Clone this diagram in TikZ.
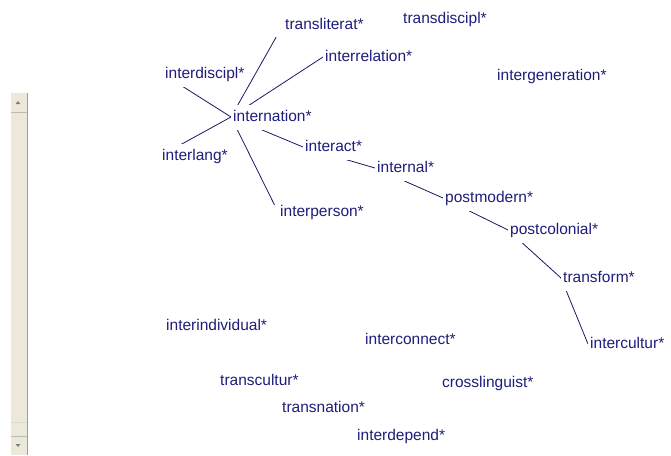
\documentclass[tikz,border=0pt]{standalone}
\usepackage{fontspec}
\setmainfont{Liberation Sans}
\usetikzlibrary{backgrounds}
\definecolor{navy}{RGB}{30,30,122}
\definecolor{barface}{RGB}{236,233,218}
\definecolor{baredge}{RGB}{158,158,148}

\begin{document}
\begin{tikzpicture}[x=1pt,y=-1pt,
    term/.style={anchor=west, fill=white, text=navy, inner xsep=2pt, inner ysep=8.5pt,
                 text height=8pt, text depth=0pt, font=\fontsize{15.5}{18}\selectfont},
    link/.style={draw=navy!80!black, line width=0.8pt}]
    \useasboundingbox (0,0) rectangle (671,455);

    % scroll bar on the left
    \fill[barface] (11,93) rectangle (27,455);
    \draw[baredge, line width=1.3pt] (27.5,93) -- (27.5,455);
    \draw[baredge!70] (11,112) -- (27,112);
    \draw[baredge!40] (11,422) -- (27,422);
    \draw[baredge!70] (11,436) -- (27,436);
    \fill[gray] (15.5,104) -- (20.5,104) -- (18,101) -- cycle;
    \fill[gray] (15.5,444) -- (20.5,444) -- (18,447) -- cycle;

    \node[term] (transliterat)    at (283,25)  {transliterat*};
    \node[term] (transdiscipl)    at (401,19)  {transdiscipl*};
    \node[term] (interrelation)   at (323,57)  {interrelation*};
    \node[term] (interdiscipl)    at (163,74)  {interdiscipl*};
    \node[term] (intergeneration) at (495,76)  {intergeneration*};
    \node[term] (internation)     at (231,117) {internation*};
    \node[term] (interlang)       at (160,156) {interlang*};
    \node[term] (interact)        at (303,147) {interact*};
    \node[term] (internal)        at (375,168) {internal*};
    \node[term] (postmodern)      at (443,198) {postmodern*};
    \node[term] (postcolonial)    at (508,230) {postcolonial*};
    \node[term] (interperson)     at (278,212) {interperson*};
    \node[term] (transform)       at (561,278) {transform*};
    \node[term] (interindividual) at (164,326) {interindividual*};
    \node[term] (interconnect)    at (363,340) {interconnect*};
    \node[term] (intercultur)     at (588,344) {intercultur*};
    \node[term] (transcultur)     at (218,381) {transcultur*};
    \node[term] (crosslinguist)   at (440,383) {crosslinguist*};
    \node[term] (transnation)     at (280,408) {transnation*};
    \node[term] (interdepend)     at (355,436) {interdepend*};

    \begin{scope}[on background layer]
        \draw[link] (internation.west) edge[shorten >=14pt] (transliterat.west)
            (internation.west) edge (interrelation.west)
            (internation.west) edge (interdiscipl.west)
            (internation.west) edge (interlang.west)
            (internation.west) edge[shorten >=8pt] (interperson.west)
            (internation.west) edge (interact.west)
            (interact.west) edge (internal.west)
            (internal.west) edge (postmodern.west)
            (postmodern.west) edge (postcolonial.west)
            (postcolonial.west) edge (transform.west)
            (transform.west) edge (intercultur.west);
    \end{scope}
\end{tikzpicture}
\end{document}
